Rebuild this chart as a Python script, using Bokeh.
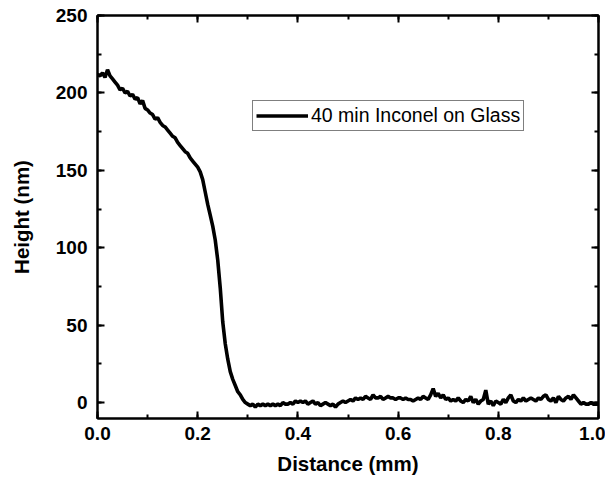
from bokeh.plotting import figure
from bokeh.models import Range1d, LinearAxis, SingleIntervalTicker, NumeralTickFormatter, CustomJSTickFormatter
from bokeh.embed import file_html
from bokeh.resources import INLINE

distance_mm = [i * 0.005 for i in range(201)]
height_nm = [
    212, 211, 213, 210, 215, 211, 209, 207, 205, 202,
    203, 200, 201, 198, 199, 196, 197, 193, 195, 190,
    189, 187, 186, 183, 184, 181, 179, 178, 176, 174,
    172, 171, 168, 166, 164, 162, 161, 158, 156, 154,
    152, 149, 144, 136, 128, 121, 114, 105, 92, 74,
    52, 38, 28, 20, 15, 11, 7, 5, 2, 0,
    -1, -2, -1, -3, -1, -2, -1, -2, -1, -2,
    -1, -2, -1, -2, 0, -1, -1, 0, -1, 1,
    0, 1, 0, 1, -1, 0, 1, -1, 0, -2,
    -1, 0, -1, -2, -1, -3, -1, 0, 1, 0,
    1, 2, 1, 3, 2, 3, 2, 4, 3, 2,
    5, 3, 3, 4, 2, 3, 4, 3, 3, 2,
    3, 3, 2, 3, 2, 2, 1, 2, 3, 2,
    4, 3, 2, 5, 9, 4, 6, 3, 5, 2,
    3, 1, 2, 1, 3, 1, 0, 2, 1, 4,
    0, 2, -1, 1, 2, 8, -1, 1, -2, 1,
    0, -1, 2, 0, 3, 5, 1, 0, 2, 1,
    3, 1, 2, 3, 2, 1, 3, 2, 4, 5,
    2, 1, 3, 0, 4, 2, 1, 3, 4, 2,
    5, 3, 1, -1, 0, -1, -1, 0, -1, -1,
    -1,
]
series_label = "40 min Inconel on Glass"
x_ticks_interval = 0.2
y_ticks_interval = 50

FONT = "Liberation Sans"

p = figure(width=605, height=483, output_backend="svg", toolbar_location=None,
           x_range=Range1d(0, 1.0), y_range=Range1d(-10.3, 250),
           x_axis_label="Distance (mm)", y_axis_label="Height (nm)",
           min_border_left=97, min_border_right=7, min_border_top=15, min_border_bottom=65)
p.xgrid.visible = False
p.ygrid.visible = False
p.outline_line_color = "black"
p.outline_line_width = 2

p.line(distance_mm, height_nm, line_color="black", line_width=3.6, legend_label=series_label)

p.xaxis.ticker = SingleIntervalTicker(interval=x_ticks_interval, num_minor_ticks=2)
p.yaxis.ticker = SingleIntervalTicker(interval=y_ticks_interval, num_minor_ticks=2)
p.xaxis.formatter = NumeralTickFormatter(format="0.0")

for ax in [p.xaxis[0], p.yaxis[0]]:
    ax.axis_line_width = 2
    ax.major_tick_in = 7
    ax.major_tick_out = 0
    ax.minor_tick_in = 4
    ax.minor_tick_out = 0
    ax.major_tick_line_width = 2
    ax.minor_tick_line_width = 2
    ax.major_label_text_font = FONT
    ax.major_label_text_font_style = "bold"
    ax.major_label_text_font_size = "19px"
    ax.major_label_text_color = "black"
    ax.axis_label_text_font = FONT
    ax.axis_label_text_font_style = "bold"
    ax.axis_label_text_font_size = "20.5px"
    ax.axis_label_text_color = "black"

p.xaxis[0].major_label_standoff = 8
p.yaxis[0].major_label_standoff = 10
p.xaxis[0].axis_label_standoff = 9
p.yaxis[0].axis_label_standoff = 20

blank = CustomJSTickFormatter(code="return ''")
top = LinearAxis(ticker=SingleIntervalTicker(interval=x_ticks_interval, num_minor_ticks=2), formatter=blank)
right = LinearAxis(ticker=SingleIntervalTicker(interval=y_ticks_interval, num_minor_ticks=2), formatter=blank)
for ax in [top, right]:
    ax.axis_line_width = 2
    ax.major_tick_in = 7
    ax.major_tick_out = 0
    ax.minor_tick_in = 4
    ax.minor_tick_out = 0
    ax.major_tick_line_width = 2
    ax.minor_tick_line_width = 2
    ax.major_label_standoff = 0
p.add_layout(top, "above")
p.add_layout(right, "right")

lg = p.legend[0]
lg.location = (155, 287)
lg.border_line_color = "black"
lg.border_line_width = 1
lg.padding = 3
lg.margin = 0
lg.spacing = 0
lg.glyph_width = 52
lg.glyph_height = 17
lg.label_height = 17
lg.label_standoff = 3
lg.label_text_font = FONT
lg.label_text_font_size = "19.5px"
lg.label_text_color = "black"
lg.background_fill_alpha = 1

open("out.html", "w").write(file_html(p, INLINE))
